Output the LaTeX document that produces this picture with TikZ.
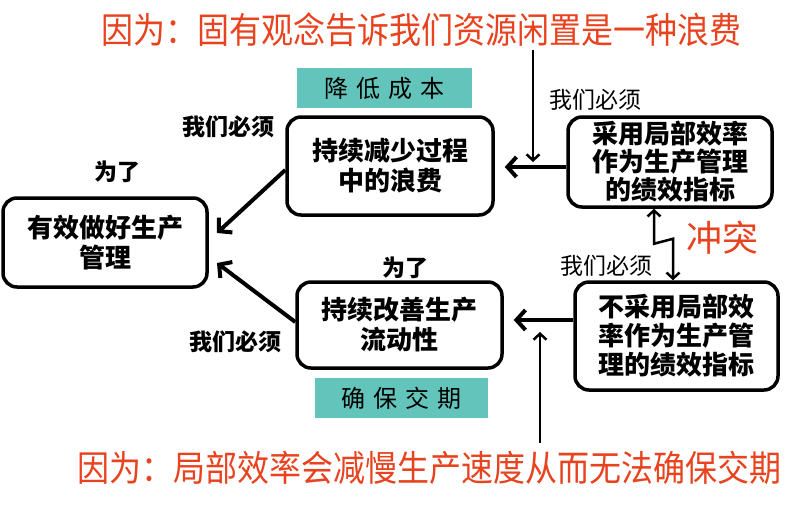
\documentclass[tikz,border=0pt]{standalone}
\usepackage{fontspec}
\usepackage{graphicx}
\newfontfamily\cjk{Noto Sans CJK SC}
\usetikzlibrary{arrows.meta}
\definecolor{redtxt}{RGB}{232,66,30}
\definecolor{tealbox}{RGB}{98,196,186}
\tikzset{
  box/.style={draw, line width=3.5pt, rounded corners=14pt, align=center, inner sep=0pt,
    font={\cjk\bfseries\fontsize{26}{30}\selectfont}},
  tag/.style={fill=tealbox, inner sep=0pt, font={\cjk\fontsize{24}{26}\selectfont}},
  lblb/.style={font={\cjk\bfseries\fontsize{23}{25}\selectfont}, inner sep=0pt},
  lbln/.style={font={\cjk\fontsize{23}{25}\selectfont}, inner sep=0pt},
  redline/.style={text=redtxt, inner sep=0pt, font={\cjk\fontsize{32}{34}\selectfont}},
  bigarrow/.style={line width=4pt, -{Straight Barb[length=9pt,width=20pt]}},
  thinarrow/.style={line width=2.5pt, -{Straight Barb[length=6pt,width=13pt]}},
  zigarrow/.style={line width=2.5pt, {Straight Barb[length=6pt,width=13pt]}-{Straight Barb[length=6pt,width=13pt]}}
}
\begin{document}
\begin{tikzpicture}[x=1pt,y=-1pt]
\useasboundingbox (0,0) rectangle (810,504);
\fill[white] (0,0) rectangle (810,504);

% top and bottom statements
\node[redline] (top) at (421,30) {\scalebox{1}[1.12]{因为：固有观念告诉我们资源闲置是一种浪费}};
\node[redline] (bot) at (429,468) {\scalebox{1}[1.12]{因为：局部效率会减慢生产速度从而无法确保交期}};

% teal tags
\node[tag, minimum width=175, minimum height=40] (cost) at (384.5,88) {降\hspace{8pt}低\hspace{8pt}成\hspace{8pt}本};
\node[tag, minimum width=173, minimum height=40] (date) at (401.5,398) {确\hspace{8pt}保\hspace{8pt}交\hspace{8pt}期};

% boxes
\node[box, minimum width=204, minimum height=89] (goal) at (105,242.5) {有效做好生产\\管理};
\node[box, minimum width=206, minimum height=98] (A) at (390,166) {持续减少过程\\中的浪费};
\node[box, minimum width=205, minimum height=86] (B) at (399.5,325) {持续改善生产\\流动性};
\node[box, minimum width=204, minimum height=90, font={\cjk\bfseries\fontsize{26}{28}\selectfont}] (C) at (670,162) {采用局部效率\\作为生产管理\\的绩效指标};
\node[box, minimum width=203, minimum height=108, font={\cjk\bfseries\fontsize{26}{29}\selectfont}] (D) at (676.5,336) {不采用局部效\\率作为生产管\\理的绩效指标};

% labels
\node[lblb] (l1) at (228,127) {我们必须};
\node[lblb] (l2) at (117,172) {为了};
\node[lblb] (l3) at (235,342) {我们必须};
\node[lblb] (l4) at (405,268) {为了};
\node[lbln] (l5) at (595,100) {我们必须};
\node[lbln] (l6) at (606,266) {我们必须};
\node[text=redtxt, inner sep=0pt, font={\cjk\fontsize{36}{38}\selectfont}] (conf) at (722,238) {冲突};

% connectors
\coordinate (tA) at (217,233);
\coordinate (tB) at (217,263);
\draw[bigarrow] ([yshift=-4]A.west) -- (tA);
\draw[bigarrow] ([yshift=3]B.west) -- (tB);
\draw[bigarrow] ([yshift=-5]C.west) -- ([xshift=10,yshift=-5]C.west -| A.east);
\draw[bigarrow] ([yshift=16]D.west) -- ([xshift=10,yshift=16]D.west -| B.east);

\coordinate (v1) at (533,50);
\coordinate (v2) at (533,162);
\draw[thinarrow] (v1) -- (v2);
\coordinate (w1) at (540,443);
\coordinate (w2) at (540,332);
\draw[thinarrow] (w1) -- (w2);

\draw[zigarrow] ([xshift=-16]C.south) -- ++(0,35) -- ++(19,-5) -- ([xshift=-2]D.north -| 675,0);
\end{tikzpicture}
\end{document}
